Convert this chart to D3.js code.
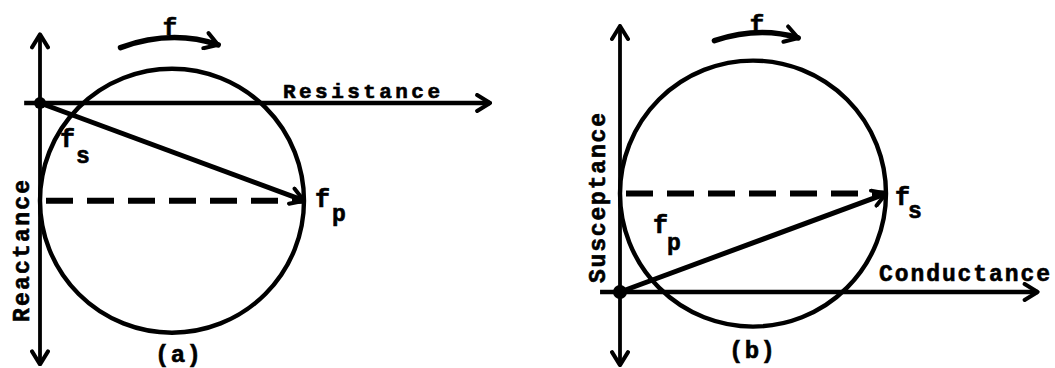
<!DOCTYPE html>
<html>
<head>
<meta charset="utf-8">
<script src="https://cdn.jsdelivr.net/npm/d3@7"></script>
<style>
  html, body { margin: 0; padding: 0; background: #fff; }
  svg { display: block; }
  text { font-family: "Liberation Mono", "DejaVu Sans Mono", monospace; font-weight: bold; fill: #000;
         stroke: #000; stroke-width: 0.6px; }
</style>
</head>
<body>
<svg id="fig" width="1055" height="368"></svg>
<script>
// Impedance (a) and admittance (b) circle diagrams of a resonator.
// Coordinates are in units of the circle radius, origin at the axis crossing,
// positive y pointing up.
const panelTags      = ["(a)", "(b)"];
const hAxisLabels    = ["Resistance", "Conductance"];
const vAxisLabels    = ["Reactance", "Susceptance"];
const circleCentres  = [[1, -0.74], [1, 0.74]];
const circleRadii    = [1, 1];
const vectorTips     = [[2, -0.74], [2, 0.74]];
const tipLabels      = [["f", "p"], ["f", "s"]];
const originLabels   = [["f", "s"], ["f", "p"]];
const hAxisExtent    = [[-0.12, 3.41], [-0.15, 3.14]];
const vAxisExtent    = [[0.52, -1.98], [2.0, -0.55]];
const sweepArrow     = [[[0.61, 0.42], [1.0, 0.56], [1.35, 0.44]],
                        [[0.71, 1.89], [1.05, 2.0], [1.34, 1.91]]];

// page layout of each panel: pixel origin and pixels per unit
const layout = [
  { ox: 40,  oy: 103, unit: 132, dot: 6,
    hLab: { x: 283, y: 98, len: 157, size: 21 }, vLab: { x: 29, y: 251, len: 142, size: 23 },
    fTop: { x: 170, y: 35 }, tag: { x: 178, y: 362 },
    oLab: { x: 60, y: 147, dx: 16, dy: 16 }, tLab: { dx: 11, dy: 6, sdx: 17, sdy: 14 } },
  { ox: 620, oy: 292, unit: 133, dot: 7,
    hLab: { x: 879, y: 281, len: 171, size: 23 }, vLab: { x: 605, y: 198, len: 170, size: 23 },
    fTop: { x: 757, y: 32 }, tag: { x: 752, y: 358 },
    oLab: { x: 653, y: 233, dx: 14, dy: 17 }, tLab: { dx: 9, dy: 11, sdx: 13, sdy: 13 } }
];

const svg = d3.select("#fig");
const defs = svg.append("defs");
defs.append("marker")
  .attr("id", "chev").attr("viewBox", "-16 -10 18 20")
  .attr("refX", 0).attr("refY", 0)
  .attr("markerWidth", 18).attr("markerHeight", 20)
  .attr("markerUnits", "userSpaceOnUse").attr("orient", "auto")
  .append("path").attr("d", "M-13,-8 L0,0 L-13,8")
  .attr("fill", "none").attr("stroke", "#000").attr("stroke-width", 4)
  .attr("stroke-linecap", "round").attr("stroke-linejoin", "round");

panelTags.forEach((tag, i) => {
  const L = layout[i];
  const x = d3.scaleLinear().domain([0, 1]).range([L.ox, L.ox + L.unit]);
  const y = d3.scaleLinear().domain([0, 1]).range([L.oy, L.oy - L.unit]);
  const g = svg.append("g");
  const line = d3.line().x(d => x(d[0])).y(d => y(d[1]));

  // circle locus
  const c = circleCentres[i];
  g.append("circle")
    .attr("cx", x(c[0])).attr("cy", y(c[1]))
    .attr("r", x(circleRadii[i]) - x(0))
    .attr("fill", "none").attr("stroke", "#000").attr("stroke-width", 4.4);

  // dashed diameter from the vertical axis to the tip
  g.append("path")
    .attr("d", line([[0, c[1]], vectorTips[i]]))
    .attr("stroke", "#000").attr("stroke-width", 6)
    .attr("stroke-dasharray", "27 14").attr("stroke-dashoffset", -6)
    .attr("fill", "none");

  // axes with arrowheads
  const he = hAxisExtent[i], ve = vAxisExtent[i];
  g.append("path").attr("d", line([[he[0], 0], [he[1], 0]]))
    .attr("stroke", "#000").attr("stroke-width", 4.6).attr("fill", "none")
    .attr("marker-end", "url(#chev)");
  g.append("path").attr("d", line([[0, 0], [0, ve[0]]]))
    .attr("stroke", "#000").attr("stroke-width", 3.8).attr("fill", "none")
    .attr("marker-end", "url(#chev)");
  g.append("path").attr("d", line([[0, 0], [0, ve[1]]]))
    .attr("stroke", "#000").attr("stroke-width", 3.8).attr("fill", "none")
    .attr("marker-end", "url(#chev)");

  // vector from origin to the tip
  g.append("path").attr("d", line([[0, 0], vectorTips[i]]))
    .attr("stroke", "#000").attr("stroke-width", 5).attr("fill", "none")
    .attr("marker-end", "url(#chev)");

  // origin dot
  g.append("circle").attr("cx", x(0)).attr("cy", y(0)).attr("r", L.dot).attr("fill", "#000");

  // frequency sweep arrow
  const s = sweepArrow[i];
  g.append("path")
    .attr("d", `M${x(s[0][0])},${y(s[0][1])} Q${x(s[1][0])},${y(s[1][1])} ${x(s[2][0])},${y(s[2][1])}`)
    .attr("stroke", "#000").attr("stroke-width", 5.5).attr("fill", "none")
    .attr("stroke-linecap", "round").attr("marker-end", "url(#chev)");
  g.append("text").attr("x", L.fTop.x).attr("y", L.fTop.y)
    .attr("text-anchor", "middle").attr("font-size", 24).text("f");

  // axis labels
  g.append("text").attr("x", L.hLab.x).attr("y", L.hLab.y)
    .attr("font-size", L.hLab.size).attr("textLength", L.hLab.len).attr("lengthAdjust", "spacing")
    .text(hAxisLabels[i]);
  g.append("text")
    .attr("transform", `translate(${L.vLab.x},${L.vLab.y}) rotate(-90)`)
    .attr("text-anchor", "middle").attr("font-size", L.vLab.size)
    .attr("textLength", L.vLab.len).attr("lengthAdjust", "spacing")
    .text(vAxisLabels[i]);

  // frequency labels with subscripts
  const o = originLabels[i];
  g.append("text").attr("x", L.oLab.x).attr("y", L.oLab.y).attr("font-size", 25).text(o[0]);
  g.append("text").attr("x", L.oLab.x + L.oLab.dx).attr("y", L.oLab.y + L.oLab.dy).attr("font-size", 23).text(o[1]);
  const t = tipLabels[i], tp = vectorTips[i];
  g.append("text").attr("x", x(tp[0]) + L.tLab.dx).attr("y", y(tp[1]) + L.tLab.dy).attr("font-size", 25).text(t[0]);
  g.append("text").attr("x", x(tp[0]) + L.tLab.dx + L.tLab.sdx).attr("y", y(tp[1]) + L.tLab.dy + L.tLab.sdy).attr("font-size", 23).text(t[1]);

  // panel tag
  g.append("text").attr("x", L.tag.x).attr("y", L.tag.y)
    .attr("text-anchor", "middle").attr("font-size", 24)
    .attr("textLength", 46).attr("lengthAdjust", "spacing").text(tag);
});
</script>
</body>
</html>
